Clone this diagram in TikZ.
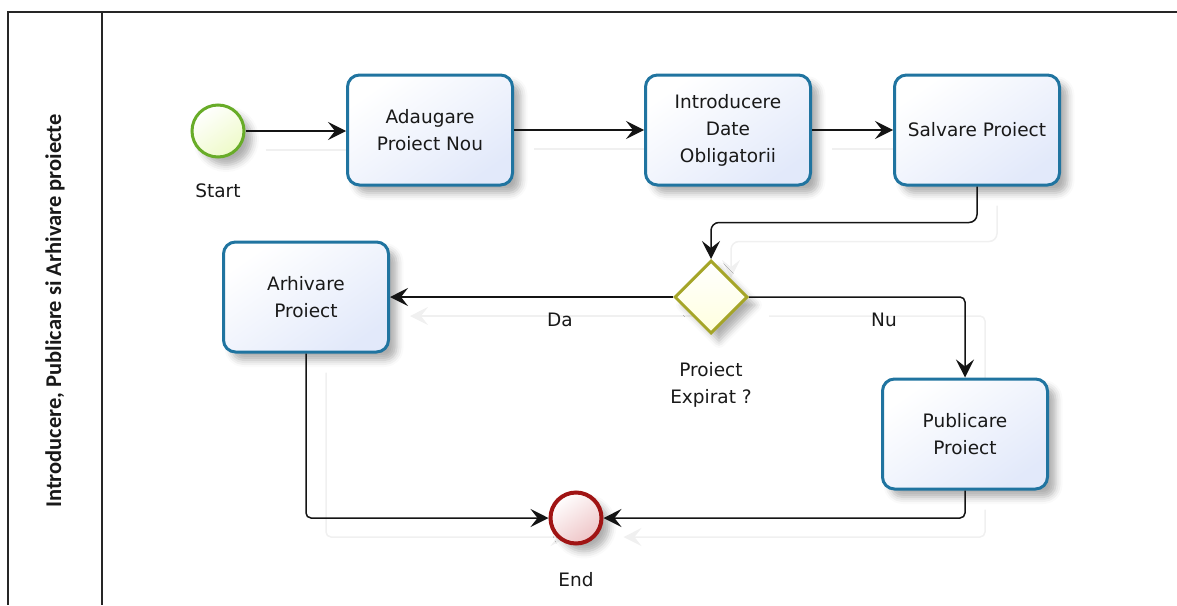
\documentclass[tikz,border=0pt]{standalone}
\usepackage{fontspec}
\setmainfont{DejaVu Sans}
\newfontfamily\lanefont{Carlito}
\usetikzlibrary{arrows.meta,shapes.geometric,shadows.blur,backgrounds,calc}

\definecolor{taskline}{RGB}{32,116,160}
\definecolor{taskfill}{RGB}{226,233,250}
\definecolor{startline}{RGB}{104,172,40}
\definecolor{startfill}{RGB}{238,250,200}
\definecolor{endline}{RGB}{160,20,20}
\definecolor{endfill}{RGB}{238,196,198}
\definecolor{gateline}{RGB}{165,165,40}
\definecolor{gatefill}{RGB}{255,255,222}
\definecolor{inktext}{RGB}{25,25,25}
\definecolor{ghostgray}{RGB}{240,240,240}

\tikzset{
  lbl/.style={font=\fontsize{18.5}{27}\selectfont, text=inktext, align=center, inner sep=0pt},
  softshadow/.style={blur shadow={shadow xshift=8pt, shadow yshift=-8pt,
      shadow blur radius=7pt, shadow opacity=32}},
  task/.style={lbl, draw=taskline, line width=3pt, rounded corners=12pt,
      minimum width=165pt, minimum height=110pt,
      top color=white, bottom color=taskfill, shading angle=35, softshadow},
  startev/.style={circle, draw=startline, line width=3pt, minimum size=52pt,
      inner sep=0pt, top color=white, bottom color=startfill, shading angle=35, softshadow},
  endev/.style={circle, draw=endline, line width=4pt, minimum size=51pt,
      inner sep=0pt, top color=white, bottom color=endfill, shading angle=35, softshadow},
  gateway/.style={diamond, aspect=1, draw=gateline, line width=3pt,
      minimum width=73pt, minimum height=73pt, inner sep=0pt,
      top color=white, bottom color=gatefill, softshadow},
  flowtip/.style={-{Stealth[length=18pt, width=18pt, inset=7pt]}},
  flow/.style={line width=1.5pt, draw=black!92, flowtip},
  ghost/.style={line width=1.5pt, draw=ghostgray, flowtip},
  frame/.style={line width=2pt, draw=black!85},
}

\begin{document}
\begin{tikzpicture}[x=1pt, y=-1pt]
  \useasboundingbox (0,0) rectangle (1177,605);

  % pool frame and lane header
  \draw[frame] (1177,12) -- (8,12) -- (8,605);
  \draw[frame] (102,12) -- (102,605);
  \node[rotate=90, font=\lanefont\bfseries\fontsize{22.5}{27}\selectfont, text=inktext]
    (lane) at (55,311) {Introducere, Publicare si Arhivare proiecte};

  % events, tasks and gateway
  \node[startev] (start) at (218,131) {};
  \node[lbl] (startlbl) at (218,191) {Start};
  \node[task] (t1) at (430,130) {Adaugare\\Proiect Nou};
  \node[task] (t2) at (728,130) {Introducere\\Date\\Obligatorii};
  \node[task] (t3) at (977,130) {Salvare Proiect};
  \node[gateway] (gw) at (711,297) {};
  \node[lbl] (gwlbl) at (711,385) {Proiect\\Expirat ?};
  \node[task] (arh) at (306,297) {Arhivare\\Proiect};
  \node[task] (pub) at (965,434) {Publicare\\Proiect};
  \node[endev] (end) at (576,518) {};
  \node[lbl] (endlbl) at (576,580) {End};
  \node[lbl] (da) at (560,320) {Da};
  \node[lbl] (nu) at (884,320) {Nu};

  % faint echoes of the sequence flows, offset down and to the right
  \begin{scope}[on background layer]
    \def\dx{20}\def\dy{19}
    \draw[ghost] ($(start.east)+(\dx,\dy)$) -- ($(start.east -| t1.west)+(\dx,\dy)$);
    \draw[ghost] ($(t1.east)+(\dx,\dy)$) -- ($(t1.east -| t2.west)+(\dx,\dy)$);
    \draw[ghost] ($(t2.east)+(\dx,\dy)$) -- ($(t2.east -| t3.west)+(\dx,\dy)$);
    \draw[ghost, rounded corners=8pt] ($(t3.south)+(\dx,\dy)$) -- ++(0,36) -| ($(gw.north)+(\dx,\dy)$);
    \draw[ghost] ($(gw.west)+(\dx,\dy)$) -- ($(arh.east)+(\dx,\dy)$);
    \draw[ghost, rounded corners=5pt] ($(gw.east)+(\dx,\dy)$) -| ($(pub.north)+(\dx,\dy)$);
    \draw[ghost, rounded corners=5pt] ($(arh.south)+(\dx,\dy)$) |- ($(end.west)+(\dx,\dy)$);
    \draw[ghost, rounded corners=5pt] ($(pub.south)+(\dx,\dy)$) |- ($(end.east)+(\dx,\dy)$);
  \end{scope}

  % sequence flows
  \draw[flow] (start.east) -- (start.east -| t1.west);
  \draw[flow] (t1.east) -- (t1.east -| t2.west);
  \draw[flow] (t2.east) -- (t2.east -| t3.west);
  \draw[flow, rounded corners=8pt] (t3.south) -- ++(0,36) -| (gw.north);
  \draw[flow] (gw.west) -- (arh.east);
  \draw[flow, rounded corners=5pt] (gw.east) -| (pub.north);
  \draw[flow, rounded corners=5pt] (arh.south) |- (end.west);
  \draw[flow, rounded corners=5pt] (pub.south) |- (end.east);
\end{tikzpicture}
\end{document}
